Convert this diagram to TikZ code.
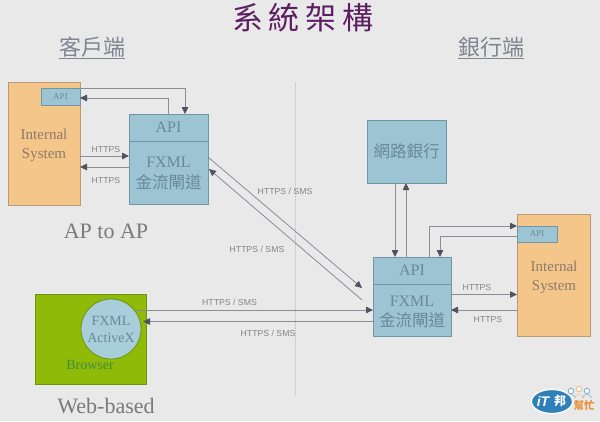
\documentclass[tikz,border=0pt]{standalone}
\usepackage{fontspec}
\setmainfont{Liberation Serif}
\setsansfont{Liberation Sans}
\newfontfamily\cjk{Noto Sans CJK TC}
\usetikzlibrary{arrows.meta}
\definecolor{bg}{HTML}{E9E9E9}
\definecolor{bluef}{HTML}{9CC4D3}
\definecolor{bluel}{HTML}{6F97A8}
\definecolor{orangef}{HTML}{F5C68A}
\definecolor{orangel}{HTML}{B8997A}
\definecolor{greenf}{HTML}{90BA08}
\definecolor{greenl}{HTML}{6F9212}
\definecolor{circf}{HTML}{A8CEDB}
\definecolor{titlec}{HTML}{5E1F62}
\definecolor{headc}{HTML}{7F8490}
\definecolor{boxt}{HTML}{6A8899}
\definecolor{orat}{HTML}{8B7A6A}
\definecolor{wire}{HTML}{8B8D94}
\definecolor{tipc}{HTML}{50535F}
\definecolor{logob}{HTML}{2F7FB8}
\definecolor{logoo}{HTML}{E8913A}
\tikzset{
  bluebox/.style={draw=bluel,fill=bluef,line width=.8pt,inner sep=0pt,outer sep=0pt,anchor=north west,text=boxt,align=center},
  orangebox/.style={draw=orangel,fill=orangef,line width=.8pt,inner sep=0pt,outer sep=0pt,anchor=north west},
  oratext/.style={text=orat,align=center,inner sep=0pt,font=\fontsize{15}{19}\selectfont},
  fxtext/.style={text=boxt,align=center,inner sep=0pt,font=\fontsize{16}{20}\selectfont},
  wirearrow/.style={draw=wire,line width=.8pt,-{Triangle[length=7pt,width=6.5pt,color=tipc,fill=tipc]}},
  lab/.style={text=black!48,font=\sffamily\fontsize{8.7}{10}\selectfont,inner sep=0pt},
  head/.style={text=headc,font=\cjk\fontsize{22}{24}\selectfont,inner sep=0pt},
  caption/.style={text=black!52,font=\fontsize{22}{24}\selectfont,inner sep=0pt},
}
\begin{document}
\begin{tikzpicture}[x=1pt,y=-1pt]
\useasboundingbox (0,0) rectangle (600,421);
\fill[bg] (0,0) rectangle (600,421);
% title and headings
\node[text=titlec,inner sep=0pt,font=\cjk\fontsize{31}{36}\selectfont] (title) at (303,18) {系\hspace{6pt}統\hspace{6pt}架\hspace{6pt}構};
\node[head] (hclient) at (92,47) {客戶端};
\node[head] (hbank) at (491,47) {銀行端};
\draw[headc,line width=.9pt] ([yshift=-1pt]hclient.south west) -- ([yshift=-1pt]hclient.south east);
\draw[headc,line width=.9pt] ([yshift=-1pt]hbank.south west) -- ([yshift=-1pt]hbank.south east);
% divider
\coordinate (dtop) at (295,82);
\coordinate (dbot) at (295,395);
\draw[black!25,line width=.6pt,densely dotted] (dtop) -- (dbot);
% client side
\node[orangebox,minimum width=72pt,minimum height=123pt] (intL) at (8,82) {};
\node[oratext] (intLt) at (44,145) {Internal\\System};
\node[bluebox,minimum width=39pt,minimum height=17pt,font=\fontsize{9}{10}\selectfont] (apiSL) at (41,88) {API};
\node[bluebox,minimum width=79pt,minimum height=27pt,font=\fontsize{16}{18}\selectfont] (apiL) at (129,114) {API};
\node[bluebox,minimum width=79pt,minimum height=63pt] (fxL) at (129,141) {};
\node[fxtext] (fxLt) at (168.5,173) {FXML\\[1pt]{\cjk\fontsize{16.5}{18}\selectfont 金流閘道}};
% bank side
\node[bluebox,minimum width=79pt,minimum height=63pt,font=\cjk\fontsize{16.5}{18}\selectfont] (web) at (367,120) {網路銀行};
\node[bluebox,minimum width=78pt,minimum height=27pt,font=\fontsize{16}{18}\selectfont] (apiR) at (373,257) {API};
\node[bluebox,minimum width=78pt,minimum height=52pt] (fxR) at (373,284) {};
\node[fxtext] (fxRt) at (412,312) {FXML\\[0pt]{\cjk\fontsize{16.5}{18}\selectfont 金流閘道}};
\node[orangebox,minimum width=73pt,minimum height=122pt] (intR) at (517,214) {};
\node[oratext] (intRt) at (554,277) {Internal\\System};
\node[bluebox,minimum width=40pt,minimum height=16pt,font=\fontsize{9}{10}\selectfont] (apiSR) at (517,226) {API};
% browser
\node[draw=greenl,fill=greenf,line width=.8pt,inner sep=0pt,outer sep=0pt,anchor=north west,minimum width=111pt,minimum height=90pt] (brow) at (35,294) {};
\node[circle,draw=greenl,fill=circf,line width=.8pt,inner sep=0pt,outer sep=0pt,minimum size=60pt,text=boxt,align=center,font=\fontsize{14}{17}\selectfont] (activex) at (111,329) {FXML\\ActiveX};
\node[text=green!40!black!75,inner sep=0pt,font=\fontsize{14}{16}\selectfont] (browt) at (90,365) {Browser};
% captions
\node[caption] (cap1) at (106,231) {AP to AP};
\node[caption] (cap2) at (106,406) {Web-based};
% left connectors
\coordinate (a) at (185,88);
\coordinate (b) at (168,98);
\draw[wirearrow] (a -| apiSL.east) -- (a) -- (a |- apiL.north);
\draw[wirearrow] (b |- apiL.north) -- (b) -- (b -| intL.east);
\coordinate (c) at (100,156);
\coordinate (d) at (100,167);
\draw[wirearrow] (c -| intL.east) -- (c -| fxL.west);
\draw[wirearrow] (d -| fxL.west) -- (d -| intL.east);
% diagonals
\coordinate (e1) at (208,157);
\coordinate (e2) at (362,288);
\coordinate (f1) at (362,300);
\coordinate (f2) at (209,169);
\draw[wirearrow] (e1 -| fxL.east) -- (e2);
\draw[wirearrow] (f1) -- (f2);
% browser connectors
\coordinate (gl) at (135,310);
\coordinate (hl) at (143,321.5);
\draw[wirearrow] (gl) -- (gl -| fxR.west);
\draw[wirearrow] (hl -| fxR.west) -- (hl);
% bank connectors
\coordinate (i) at (395,200);
\coordinate (j) at (406,200);
\draw[wirearrow] (i |- web.south) -- (i |- apiR.north);
\draw[wirearrow] (j |- apiR.north) -- (j |- web.south);
\coordinate (k) at (429,226);
\coordinate (l) at (440,236);
\draw[wirearrow] (k |- apiR.north) -- (k) -- (k -| intR.west);
\draw[wirearrow] (l -| intR.west) -- (l) -- (l |- apiR.north);
\coordinate (m) at (480,294.5);
\coordinate (n) at (480,310);
\draw[wirearrow] (m -| fxR.east) -- (m -| intR.west);
\draw[wirearrow] (n -| intR.west) -- (n -| fxR.east);
% labels
\node[lab] (l1) at (106,150) {HTTPS};
\node[lab] (l2) at (106,181) {HTTPS};
\node[lab] (l3) at (477,287) {HTTPS};
\node[lab] (l4) at (488,319) {HTTPS};
\node[lab] (l5) at (285,191) {HTTPS / SMS};
\node[lab] (l6) at (257,249) {HTTPS / SMS};
\node[lab] (l7) at (229.5,302) {HTTPS / SMS};
\node[lab] (l8) at (268,333) {HTTPS / SMS};
% logo
\foreach \cx/\cy/\cc in {571/391/logob,579/389/logoo,587/391/logob}{
  \draw[\cc!60!white,line width=.9pt,fill=white] (\cx,\cy) circle (2.8pt);
  \draw[\cc!50!white,line width=.7pt] (\cx-4.5,398) .. controls (\cx-4,393.5) and (\cx+4,393.5) .. (\cx+4.5,398);
}
\draw[white,line width=1.2pt,fill=logob] (552,401.5) ellipse (20.5pt and 12pt);
\node[text=white,inner sep=0pt,font=\sffamily\bfseries\itshape\fontsize{14}{14}\selectfont] (logoa) at (543,401.5) {iT};
\node[text=white,inner sep=0pt,font=\cjk\bfseries\fontsize{12}{12}\selectfont] (logoe) at (560,401.5) {邦};
\node[text=logoo,inner sep=0pt,font=\cjk\bfseries\fontsize{10.5}{10}\selectfont] (logoc) at (584,405) {幫忙};
\end{tikzpicture}
\end{document}
